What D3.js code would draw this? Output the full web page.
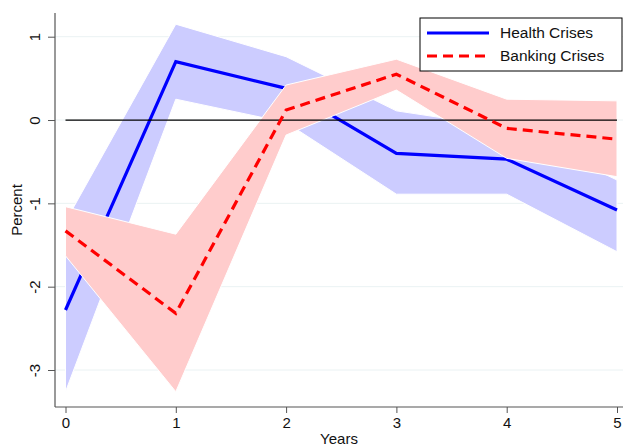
<!DOCTYPE html>
<html>
<head>
<meta charset="utf-8">
<script src="https://cdn.jsdelivr.net/npm/d3@7"></script>
<style>
  body { margin: 0; background: #fff; }
  text { font-family: "Liberation Sans", Arial, sans-serif; }
</style>
</head>
<body>
<script>
// data
const years = [0, 1, 2, 3, 4, 5];
const health = [-2.28, 0.70, 0.38, -0.40, -0.47, -1.08];
const healthHi = [-1.22, 1.15, 0.76, 0.11, -0.09, -0.72];
const healthLo = [-3.26, 0.25, -0.03, -0.89, -0.89, -1.58];
const banking = [-1.33, -2.32, 0.12, 0.55, -0.10, -0.23];
const bankingHi = [-1.04, -1.37, 0.42, 0.73, 0.25, 0.23];
const bankingLo = [-1.63, -3.26, -0.18, 0.36, -0.46, -0.68];
const yTicks = [-3, -2, -1, 0, 1];
const seriesNames = ["Health Crises", "Banking Crises"];

const width = 623, height = 447;
const plotLeft = 55, plotRight = 623, plotTop = 13, plotBottom = 407;

const svg = d3.select("body").append("svg")
    .attr("width", width)
    .attr("height", height);

// scales
const x = d3.scaleLinear().domain([0, 5]).range([65.5, 617]);
const y = d3.scaleLinear().domain([-3, 1]).range([370, 36.7]);

// gridlines
svg.append("g").selectAll("line")
    .data(yTicks)
    .enter().append("line")
    .attr("x1", plotLeft).attr("x2", plotRight)
    .attr("y1", d => y(d)).attr("y2", d => y(d))
    .attr("stroke", "#eaf2f3")
    .attr("stroke-width", 1);

const band = (hi, lo) => d3.area()
    .x((d, i) => x(years[i]))
    .y0((d, i) => y(lo[i]))
    .y1((d, i) => y(hi[i]));

const line = vals => d3.line()
    .x((d, i) => x(years[i]))
    .y((d, i) => y(vals[i]));

// health band + line
svg.append("path")
    .attr("d", band(healthHi, healthLo)(years))
    .attr("fill", "#ccccff")
    .attr("stroke", "#fff")
    .attr("stroke-width", 1);

svg.append("path")
    .attr("d", line(health)(years))
    .attr("fill", "none")
    .attr("stroke", "#0000ff")
    .attr("stroke-width", 3.2);

// banking band (covers the blue line where they overlap)
svg.append("path")
    .attr("d", band(bankingHi, bankingLo)(years))
    .attr("fill", "#ffcccc")
    .attr("stroke", "#fff")
    .attr("stroke-width", 1);

// zero line
svg.append("line")
    .attr("x1", x(0)).attr("x2", x(5))
    .attr("y1", y(0)).attr("y2", y(0))
    .attr("stroke", "#000")
    .attr("stroke-width", 1.2);

svg.append("path")
    .attr("d", line(banking)(years))
    .attr("fill", "none")
    .attr("stroke", "#ff0000")
    .attr("stroke-width", 3.2)
    .attr("stroke-dasharray", "10,6");

// axes
const leftAxis = d3.axisLeft(y).tickValues(yTicks).tickSize(7).tickPadding(0)
    .tickFormat(d => String(d));
const gy = svg.append("g")
    .attr("transform", "translate(" + plotLeft + ",0)")
    .call(leftAxis);
gy.select(".domain").remove();
gy.selectAll(".tick line").attr("stroke", "#555");
gy.selectAll(".tick text")
    .attr("font-size", 15)
    .attr("fill", "#111")
    .attr("text-anchor", "middle")
    .attr("transform", "translate(-20,0) rotate(-90)")
    .attr("x", 0).attr("dy", "0.35em");

svg.append("line")
    .attr("x1", plotLeft).attr("x2", plotLeft)
    .attr("y1", plotTop).attr("y2", plotBottom)
    .attr("stroke", "#555").attr("stroke-width", 1.2);

const bottomAxis = d3.axisBottom(x).tickValues(years).tickSize(6).tickPadding(4)
    .tickFormat(d => String(d));
const gx = svg.append("g")
    .attr("transform", "translate(0," + plotBottom + ")")
    .call(bottomAxis);
gx.select(".domain").remove();
gx.selectAll(".tick line").attr("stroke", "#555");
gx.selectAll(".tick text").attr("font-size", 15).attr("fill", "#111");

svg.append("line")
    .attr("x1", plotLeft).attr("x2", plotRight)
    .attr("y1", plotBottom).attr("y2", plotBottom)
    .attr("stroke", "#555").attr("stroke-width", 1.2);

// axis titles
svg.append("text")
    .attr("transform", "translate(22," + ((plotTop + plotBottom) / 2) + ") rotate(-90)")
    .attr("text-anchor", "middle")
    .attr("font-size", 15)
    .attr("fill", "#111")
    .text("Percent");

svg.append("text")
    .attr("x", (plotLeft + plotRight) / 2)
    .attr("y", 444)
    .attr("text-anchor", "middle")
    .attr("font-size", 15)
    .attr("fill", "#111")
    .text("Years");

// legend
const legend = svg.append("g").attr("transform", "translate(420,18)");
legend.append("rect")
    .attr("width", 202).attr("height", 53)
    .attr("fill", "#fff").attr("stroke", "#000").attr("stroke-width", 1);
const styles = [{c: "#0000ff", dash: null}, {c: "#ff0000", dash: "10,6"}];
seriesNames.forEach((name, i) => {
    legend.append("line")
        .attr("x1", 7).attr("x2", 69)
        .attr("y1", 15 + i * 23).attr("y2", 15 + i * 23)
        .attr("stroke", styles[i].c)
        .attr("stroke-width", 3.2)
        .attr("stroke-dasharray", styles[i].dash);
    legend.append("text")
        .attr("x", 80).attr("y", 15 + i * 23)
        .attr("dy", "0.35em")
        .attr("font-size", 15.5)
        .attr("fill", "#111")
        .text(name);
});
</script>
</body>
</html>
